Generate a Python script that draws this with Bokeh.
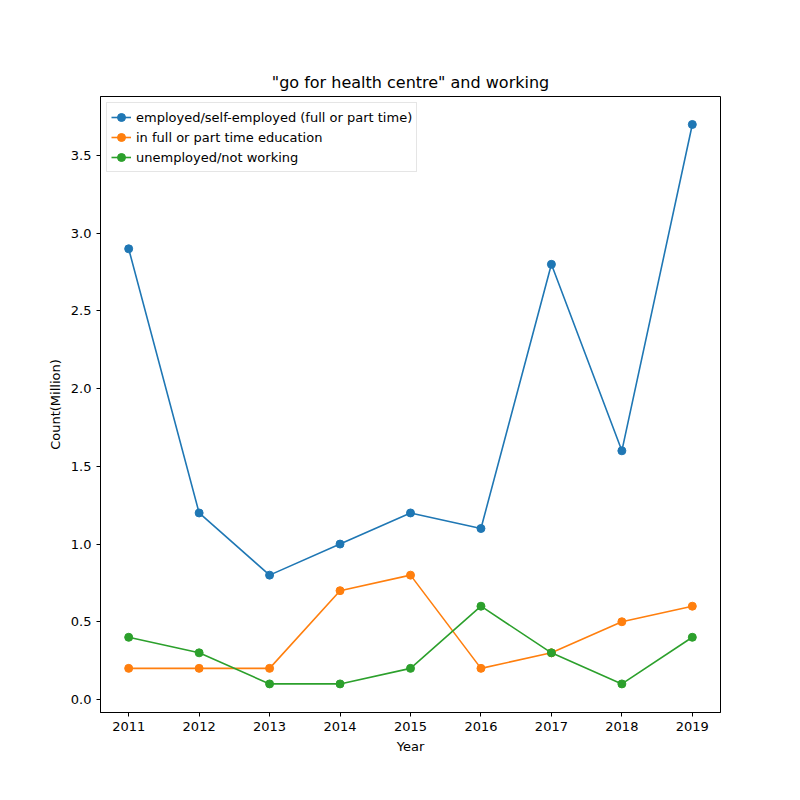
# Line chart: "go for health centre" and working
from bokeh.plotting import figure
from bokeh.models import Range1d, FixedTicker, Legend, LegendItem, CustomJSTickFormatter
from bokeh.embed import file_html
from bokeh.resources import INLINE

years = [2011, 2012, 2013, 2014, 2015, 2016, 2017, 2018, 2019]
employed = [2.9, 1.2, 0.8, 1.0, 1.2, 1.1, 2.8, 1.6, 3.7]
education = [0.2, 0.2, 0.2, 0.7, 0.8, 0.2, 0.3, 0.5, 0.6]
unemployed = [0.4, 0.3, 0.1, 0.1, 0.2, 0.6, 0.3, 0.1, 0.4]

labels = ["employed/self-employed (full or part time)",
          "in full or part time education",
          "unemployed/not working"]
colors = ["#1f77b4", "#ff7f0e", "#2ca02c"]

p = figure(width=784, height=784, output_backend="svg", toolbar_location=None,
           title='"go for health centre" and working',
           x_axis_label="Year", y_axis_label="Count(Million)",
           x_range=Range1d(2010.6, 2019.4), y_range=Range1d(-0.084, 3.88),
           min_border_left=100, min_border_right=64, min_border_top=96, min_border_bottom=72)

items = []
for ys, lab, c in zip([employed, education, unemployed], labels, colors):
    l = p.line(years, ys, color=c, line_width=1.6)
    s = p.scatter(years, ys, color=c, size=8)
    items.append(LegendItem(label=lab, renderers=[l, s]))

legend = Legend(items=items, location="top_left")
legend.label_text_font = "DejaVu Sans"
legend.label_text_font_size = "13px"
legend.label_text_color = "black"
legend.border_line_color = "#cccccc"
legend.padding = 4
legend.spacing = 0
legend.glyph_height = 20
legend.label_height = 20
legend.margin = 6
p.add_layout(legend)

p.title.align = "center"
p.title.text_font = "DejaVu Sans"
p.title.text_font_size = "16px"
p.title.text_font_style = "normal"
p.title.text_color = "black"

p.xaxis.ticker = FixedTicker(ticks=years)
p.yaxis.ticker = FixedTicker(ticks=[0, 0.5, 1.0, 1.5, 2.0, 2.5, 3.0, 3.5])
p.yaxis.formatter = CustomJSTickFormatter(code="return tick.toFixed(1)")
for ax in [p.xaxis, p.yaxis]:
    ax.major_tick_in = 0
    ax.major_tick_out = 4
    ax.minor_tick_out = 0
    ax.minor_tick_in = 0
    ax.major_label_text_font = "DejaVu Sans"
    ax.major_label_text_font_size = "13px"
    ax.major_label_text_color = "black"
    ax.axis_label_text_font = "DejaVu Sans"
    ax.axis_label_text_font_size = "13px"
    ax.axis_label_text_font_style = "normal"
    ax.axis_label_text_color = "black"
    ax.axis_line_color = "black"
    ax.major_tick_line_color = "black"

p.grid.visible = False
p.outline_line_color = "black"

open("out.html", "w").write(file_html(p, INLINE))
